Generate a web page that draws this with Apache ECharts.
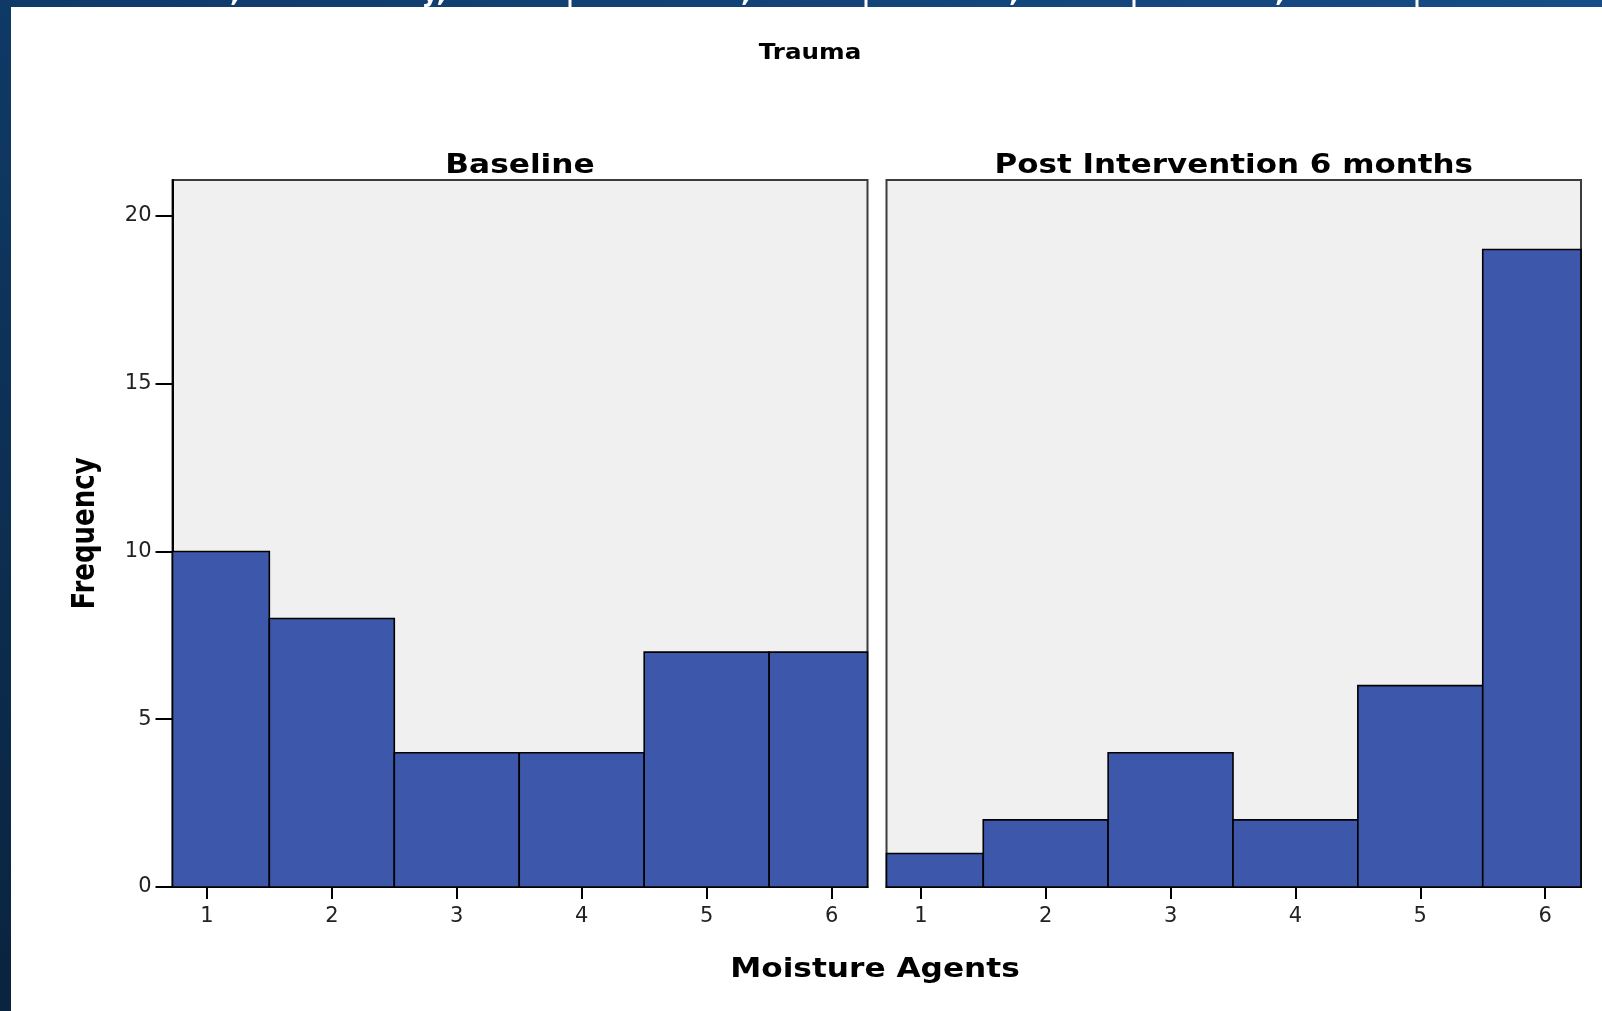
<!DOCTYPE html>
<html>
<head>
<meta charset="utf-8">
<script src="https://cdn.jsdelivr.net/npm/echarts@6/dist/echarts.min.js"></script>
<style>
html,body{margin:0;padding:0;background:#fff;}
#chart{width:1602px;height:1011px;}
</style>
</head>
<body>
<div id="chart"></div>
<script>
// ---- data ----
const categories = [1, 2, 3, 4, 5, 6];
const baselineCounts = [10, 8, 4, 4, 7, 7];
const postCounts = [1, 2, 4, 2, 6, 19];
const yTicks = [0, 5, 10, 15, 20];
const panelTitles = ['Baseline', 'Post Intervention 6 months'];
const chartTitle = 'Trauma';
const xName = 'Moisture Agents';
const yName = 'Frequency';
// cut-off slide heading fragments visible in the top band
const headingBits = [',', 'y,', '|', ',', '|', ',', '|', ',', '|'];

// ---- styling / layout ----
const BAR = '#3D58AA';
const PLOT_BG = '#F0F0F0';
const X_MIN = 0.725, X_MAX = 6.287;
const Y_MAX = 21.07;
const grids = [
  { left: 172.5, top: 180, width: 695, height: 707 },
  { left: 886.5, top: 180, width: 694.5, height: 707 }
];
const headingX = [235, 434, 570, 746, 866, 1014, 1134, 1280, 1417];
const FONT = '"DejaVu Sans", sans-serif';
const SX = 1.2;

function binData(counts) {
  return categories.map((c, i) => [c - 0.5, c + 0.5, counts[i]]);
}

function renderBar(params, api) {
  const p0 = api.coord([api.value(0), 0]);
  const p1 = api.coord([api.value(1), api.value(2)]);
  const cs = params.coordSys;
  const l = Math.max(p0[0], cs.x);
  const r = Math.min(p1[0], cs.x + cs.width);
  return {
    type: 'rect',
    shape: { x: l, y: p1[1], width: r - l, height: p0[1] - p1[1] },
    style: { fill: BAR, stroke: '#000', lineWidth: 1.6 }
  };
}

function xAxisFor(idx) {
  return {
    type: 'value', gridIndex: idx, min: X_MIN, max: X_MAX,
    axisLine: { show: true, onZero: false, lineStyle: { color: '#000', width: 2 } },
    axisTick: { show: true, length: 12, lineStyle: { color: '#000', width: 2 }, customValues: categories },
    axisLabel: { show: true, margin: 19, color: '#222', fontFamily: FONT, fontSize: 21, customValues: categories },
    splitLine: { show: false }
  };
}

const headingGraphics = headingBits.map((t, i) => ({
  type: 'text', x: headingX[i], y: 7, silent: true, z: 11,
  style: { text: t, fontFamily: FONT, fontWeight: 'bold', fontSize: 26, fill: '#ffffff', align: 'center', verticalAlign: 'bottom' }
}));

const chart = echarts.init(document.getElementById('chart'), null, { renderer: 'canvas' });
chart.setOption({
  animation: false,
  backgroundColor: '#ffffff',
  grid: grids.map(g => Object.assign({ show: true, backgroundColor: PLOT_BG, borderColor: '#3c3c3c', borderWidth: 2 }, g)),
  xAxis: [xAxisFor(0), xAxisFor(1)],
  yAxis: [
    {
      type: 'value', gridIndex: 0, min: 0, max: Y_MAX,
      axisLine: { show: true, lineStyle: { color: '#000', width: 2 } },
      axisTick: { show: true, length: 17, lineStyle: { color: '#000', width: 2 }, customValues: yTicks },
      axisLabel: { show: true, margin: 21, color: '#222', fontFamily: FONT, fontSize: 21, customValues: yTicks,
        verticalAlign: 'middle', padding: [7, 0, 0, 0] },
      splitLine: { show: false }
    },
    {
      type: 'value', gridIndex: 1, min: 0, max: Y_MAX,
      axisLine: { show: false }, axisTick: { show: false }, axisLabel: { show: false }, splitLine: { show: false }
    }
  ],
  series: [
    { type: 'custom', name: panelTitles[0], xAxisIndex: 0, yAxisIndex: 0, renderItem: renderBar, data: binData(baselineCounts), z: 3 },
    { type: 'custom', name: panelTitles[1], xAxisIndex: 1, yAxisIndex: 1, renderItem: renderBar, data: binData(postCounts), z: 3 }
  ],
  graphic: [
    { type: 'rect', left: 0, top: 0, shape: { width: 1602, height: 7 }, silent: true, z: 10,
      style: { fill: new echarts.graphic.LinearGradient(0, 0, 1, 0, [{ offset: 0, color: '#0F3A68' }, { offset: 1, color: '#174C86' }]) } },
    { type: 'rect', left: 0, top: 0, shape: { width: 11, height: 1011 }, silent: true, z: 10,
      style: { fill: new echarts.graphic.LinearGradient(0, 0, 0, 1, [{ offset: 0, color: '#0F3A66' }, { offset: 1, color: '#0A233E' }]) } }
  ].concat(headingGraphics).concat([
    { type: 'text', x: 810, y: 54, scaleX: SX, silent: true,
      style: { text: chartTitle, fontFamily: FONT, fontWeight: 'bold', fontSize: 20.5, fill: '#000', align: 'center', verticalAlign: 'middle' } },
    { type: 'text', x: grids[0].left + grids[0].width / 2, y: 166, scaleX: SX, silent: true,
      style: { text: panelTitles[0], fontFamily: FONT, fontWeight: 'bold', fontSize: 26, fill: '#000', align: 'center', verticalAlign: 'middle' } },
    { type: 'text', x: grids[1].left + grids[1].width / 2, y: 166, scaleX: SX, silent: true,
      style: { text: panelTitles[1], fontFamily: FONT, fontWeight: 'bold', fontSize: 25.8, fill: '#000', align: 'center', verticalAlign: 'middle' } },
    { type: 'text', x: 875, y: 970, scaleX: SX, silent: true,
      style: { text: xName, fontFamily: FONT, fontWeight: 'bold', fontSize: 26, fill: '#000', align: 'center', verticalAlign: 'middle' } },
    { type: 'text', x: 86, y: 533.5, rotation: Math.PI / 2, scaleY: SX, silent: true,
      style: { text: yName, fontFamily: FONT, fontWeight: 'bold', fontSize: 26, fill: '#000', align: 'center', verticalAlign: 'middle' } }
  ])
});
</script>
</body>
</html>
